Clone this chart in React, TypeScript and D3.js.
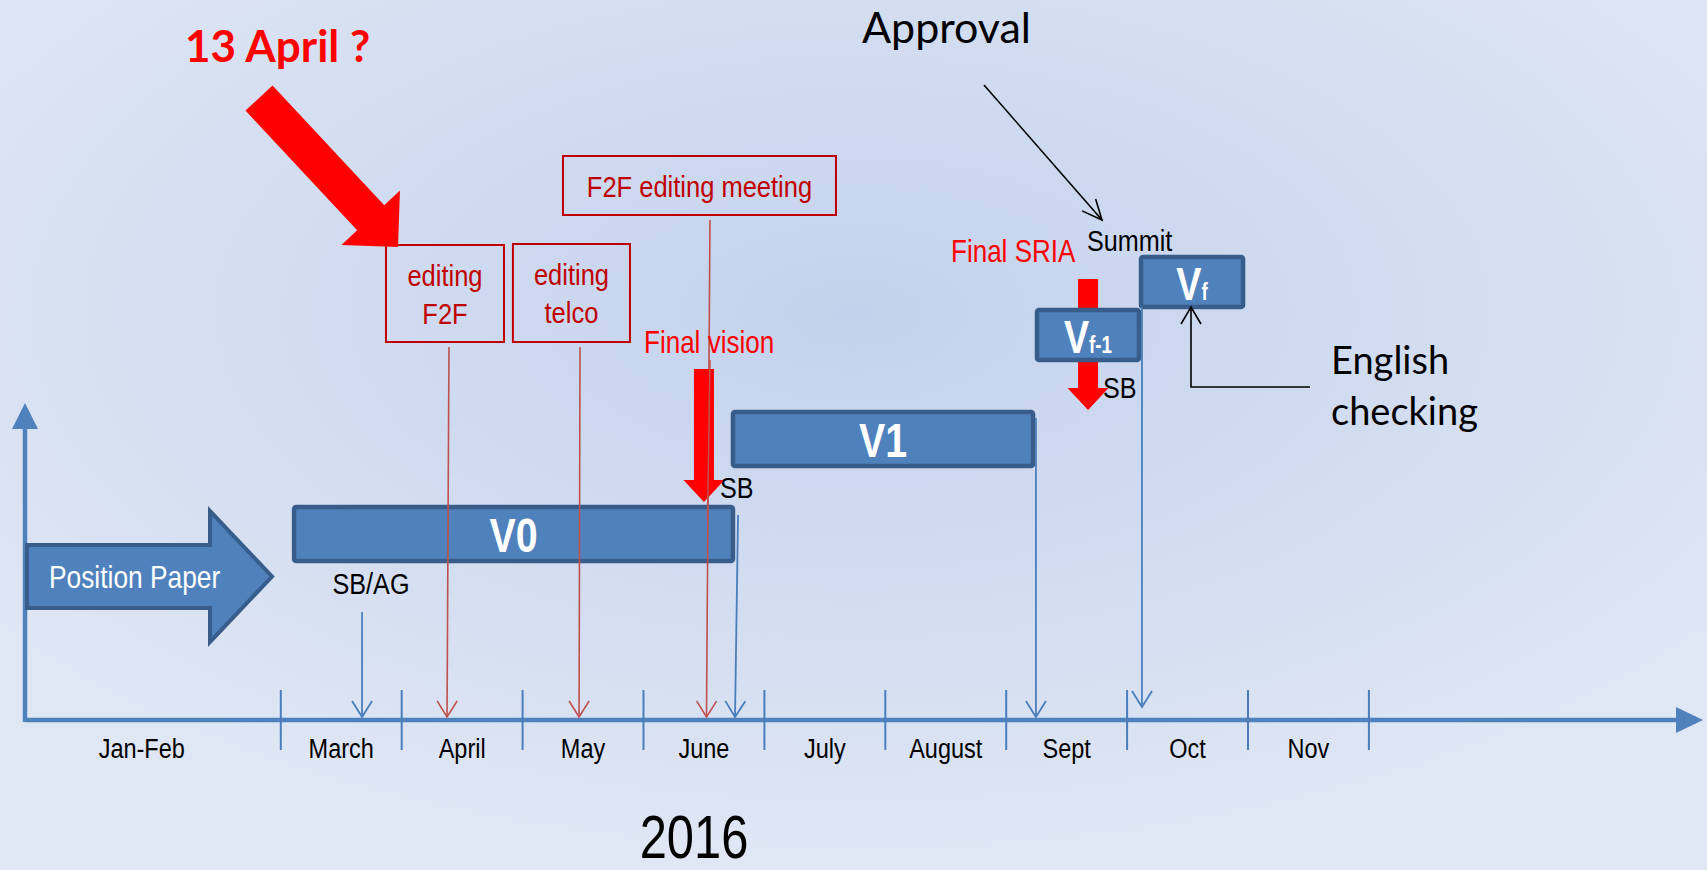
import React from "react";
import * as d3 from "d3";

// month bands along the time axis (months counted from 1 Jan 2016)
const monthLabels = ["Jan-Feb", "March", "April", "May", "June", "July", "August", "Sept", "Oct", "Nov"];
const monthLabelAt = [0.85, 2.5, 3.5, 4.5, 5.5, 6.5, 7.5, 8.5, 9.5, 10.5];
const monthTicks = [2, 3, 4, 5, 6, 7, 8, 9, 10, 11];
const yearLabel = "2016";

// document versions (bars)
const versionNames = ["V0", "V1", "V", "V"];
const versionSubs = ["", "", "f-1", "f"];
const versionStart = [2.11, 5.74, 8.255, 9.115];
const versionEnd = [5.74, 8.222, 9.098, 9.959];

// blue milestone arrows (from a version to the axis)
const blueFrom = [2.672, 5.782, 8.246, 9.123];
const blueTo = [2.672, 5.757, 8.246, 9.123];

// red editing meetings (box -> axis)
const meetingLines = [["editing", "F2F"], ["editing", "telco"], ["F2F editing meeting"]];
const meetingBoxStart = [2.87, 3.92, 4.334];
const meetingBoxEnd = [3.846, 4.888, 6.592];
const meetingFrom = [3.391, 4.475, 5.55];
const meetingTo = [3.375, 4.467, 5.521];

// big red "final" arrows
const finalLabels = ["Final vision", "Final SRIA"];
const finalAt = [5.5, 8.677];

const W = 1707;
const H = 870;

const x = d3.scaleLinear().domain([0, 11]).range([39, 39 + 120.9 * 11]);

const BLUE = "#4a7ebb";
const BOX = "#4f81bd";
const BOX_EDGE = "#385d8a";
const RED_LINE = "#c0504d";
const RED_DARK = "#c00000";
const NARROW = "'Liberation Sans', Arial, sans-serif";
const CAL = "Lato, 'Open Sans', sans-serif";

const blockArrow = (x0: number, y0: number, x1: number, y1: number, sw: number, hw: number, hl: number) => {
  const dx = x1 - x0, dy = y1 - y0;
  const len = Math.hypot(dx, dy);
  const ux = dx / len, uy = dy / len;
  const nx = -uy, ny = ux;
  const bx = x1 - ux * hl, by = y1 - uy * hl;
  const p = (cx: number, cy: number, k: number) => [cx + nx * k, cy + ny * k];
  const pts = [
    p(x0, y0, sw / 2), p(bx, by, sw / 2), p(bx, by, hw / 2), [x1, y1],
    p(bx, by, -hw / 2), p(bx, by, -sw / 2), p(x0, y0, -sw / 2),
  ];
  return pts.map((q) => q.join(",")).join(" ");
};

const openHead = (x0: number, y0: number, x1: number, y1: number, l: number, w: number) => {
  const dx = x1 - x0, dy = y1 - y0;
  const len = Math.hypot(dx, dy);
  const ux = dx / len, uy = dy / len;
  const nx = -uy, ny = ux;
  const bx = x1 - ux * l, by = y1 - uy * l;
  return `M${bx + nx * w},${by + ny * w}L${x1},${y1}L${bx - nx * w},${by - ny * w}`;
};

// narrow sans text (Arial Narrow look)
const NT = ({ tx, ty, size, fill = "#000", anchor = "start", weight = "normal", sx = 0.84, children }: any) => (
  <text
    transform={`translate(${tx},${ty}) scale(${sx},1)`}
    fontFamily={NARROW}
    fontSize={size}
    fill={fill}
    textAnchor={anchor}
    fontWeight={weight}
  >
    {children}
  </text>
);

const ArrowLine = ({ x0, y0, x1, y1, color, w = 2 }: any) => (
  <g fill="none" stroke={color} strokeWidth={w}>
    <line x1={x0} y1={y0} x2={x1} y2={y1} />
    <path d={openHead(x0, y0, x1, y1, 16, 10)} />
  </g>
);

const VersionBox = ({ i }: { i: number }) => {
  const barTop = [507, 412, 310, 257];
  const barH = [54, 54, 50, 50];
  const x0 = x(versionStart[i]);
  const x1 = x(versionEnd[i]);
  const sub = versionSubs[i];
  return (
    <g>
      <rect x={x0} y={barTop[i]} width={x1 - x0} height={barH[i]} rx={2} fill={BOX} stroke={BOX_EDGE} strokeWidth={4.5} />
      <NT
        tx={(x0 + x1) / 2}
        ty={barTop[i] + (sub ? 43 : 45)}
        size={sub ? 46 : 48}
        fill="#fff"
        anchor="middle"
        weight="bold"
        sx={0.82}
      >
        <tspan>{versionNames[i]}</tspan>
        {sub && <tspan fontSize={23}>{sub}</tspan>}
      </NT>
    </g>
  );
};

export default function App() {
  const axisY = 720;
  const originX = 25;
  const blueTop = [612, 515, 418, 307];
  const blueTip = [717, 717, 717, 707];
  const meetingBoxTop = [245, 244, 156];
  const meetingBoxBottom = [342, 342, 215];
  const finalTop = [369, 279];
  const finalTip = [502, 410];

  return (
    <svg width={W} height={H} style={{ position: "absolute", left: 0, top: 0, display: "block" }}>
      <defs>
        <radialGradient id="bg" cx="0.5" cy="0.36" r="0.62">
          <stop offset="0" stopColor="#c3d2ec" />
          <stop offset="1" stopColor="#dfe6f4" />
        </radialGradient>
      </defs>
      <rect width={W} height={H} fill="url(#bg)" />

      {/* axes */}
      <line x1={originX} y1={axisY} x2={1680} y2={axisY} stroke={BOX} strokeWidth={4.5} />
      <polygon points={`1676,707 1703,720 1676,733`} fill={BOX} />
      <line x1={originX} y1={axisY + 2} x2={originX} y2={425} stroke={BOX} strokeWidth={4.5} />
      <polygon points={`12,429 ${originX},403 38,429`} fill={BOX} />
      {monthTicks.map((m) => (
        <line key={m} x1={x(m)} x2={x(m)} y1={690} y2={750} stroke={BLUE} strokeWidth={2} />
      ))}
      {monthLabels.map((l, i) => (
        <NT key={l} tx={x(monthLabelAt[i])} ty={758} size={28} anchor="middle">
          {l}
        </NT>
      ))}
      <NT tx={694} ty={858} size={61} anchor="middle" sx={0.8}>
        {yearLabel}
      </NT>

      {/* position paper */}
      <polygon
        points={blockArrow(27, 576.5, 272, 576.5, 63, 131, 62)}
        fill={BOX}
        stroke={BOX_EDGE}
        strokeWidth={4}
      />
      <NT tx={49} ty={588} size={31} fill="#fff" sx={0.85}>
        Position Paper
      </NT>

      {/* red meeting boxes */}
      {meetingLines.map((lines, i) => {
        const x0 = x(meetingBoxStart[i]);
        const x1 = x(meetingBoxEnd[i]);
        const cx = (x0 + x1) / 2;
        return (
          <g key={i}>
            <rect
              x={x0}
              y={meetingBoxTop[i]}
              width={x1 - x0}
              height={meetingBoxBottom[i] - meetingBoxTop[i]}
              fill="none"
              stroke={RED_DARK}
              strokeWidth={2}
            />
            {lines.map((t, j) => (
              <NT
                key={t}
                tx={cx}
                ty={meetingBoxTop[i] + 41 + j * 38}
                size={30}
                fill={RED_DARK}
                anchor="middle"
                sx={0.85}
              >
                {t}
              </NT>
            ))}
          </g>
        );
      })}

      {/* bars */}
      <VersionBox i={0} />
      <VersionBox i={1} />
      <VersionBox i={3} />

      {/* blue milestone arrows */}
      {blueFrom.map((m, i) => (
        <ArrowLine key={i} x0={x(m)} y0={blueTop[i]} x1={x(blueTo[i])} y1={blueTip[i]} color={BLUE} w={1.8} />
      ))}

      {/* red meeting lines */}
      {meetingFrom.map((m, i) => (
        <ArrowLine
          key={i}
          x0={x(m)}
          y0={meetingBoxBottom[i] + 5}
          x1={x(meetingTo[i])}
          y1={717}
          color={RED_LINE}
          w={1.6}
        />
      ))}

      {/* big red arrows */}
      <polygon points={blockArrow(259, 98, 398, 247, 37, 80, 40)} fill="#ff0000" />
      {finalAt.map((m, i) => (
        <polygon key={i} points={blockArrow(x(m), finalTop[i], x(m), finalTip[i], 20, 41, 22)} fill="#ff0000" />
      ))}
      {/* Vf-1 sits over the Final SRIA arrow */}
      <VersionBox i={2} />
      <line x1={x(meetingFrom[2])} y1={360} x2={x(meetingTo[2]) + 1} y2={520} stroke={RED_LINE} strokeWidth={1.6} />

      {/* text labels */}
      <NT tx={371} ty={594} size={30} anchor="middle">SB/AG</NT>
      <NT tx={720} ty={498} size={30}>SB</NT>
      <NT tx={1103} ty={398} size={30}>SB</NT>
      <NT tx={1087} ty={251} size={30}>Summit</NT>
      <NT tx={644} ty={353} size={31} fill="#ff0000">{finalLabels[0]}</NT>
      <NT tx={951} ty={262} size={31} fill="#ff0000">{finalLabels[1]}</NT>

      <text x={185} y={62} fontFamily={CAL} fontWeight="bold" fontSize={44} fill="#ff0000">
        13 April ?
      </text>
      <text x={862} y={43} fontFamily={CAL} fontSize={43} fill="#000">
        Approval
      </text>
      <text fontFamily={CAL} fontSize={38} fill="#000">
        <tspan x={1331} y={374}>English</tspan>
        <tspan x={1331} y={425}>checking</tspan>
      </text>

      {/* approval and english checking pointers */}
      <g fill="none" stroke="#000" strokeWidth={1.6}>
        <line x1={984} y1={85} x2={1102} y2={220} />
        <path d={openHead(984, 85, 1102, 220, 20, 9)} />
        <polyline points="1310,387 1191,387 1191,307" />
        <path d={openHead(1191, 387, 1191, 307, 17, 10)} />
      </g>
    </svg>
  );
}
